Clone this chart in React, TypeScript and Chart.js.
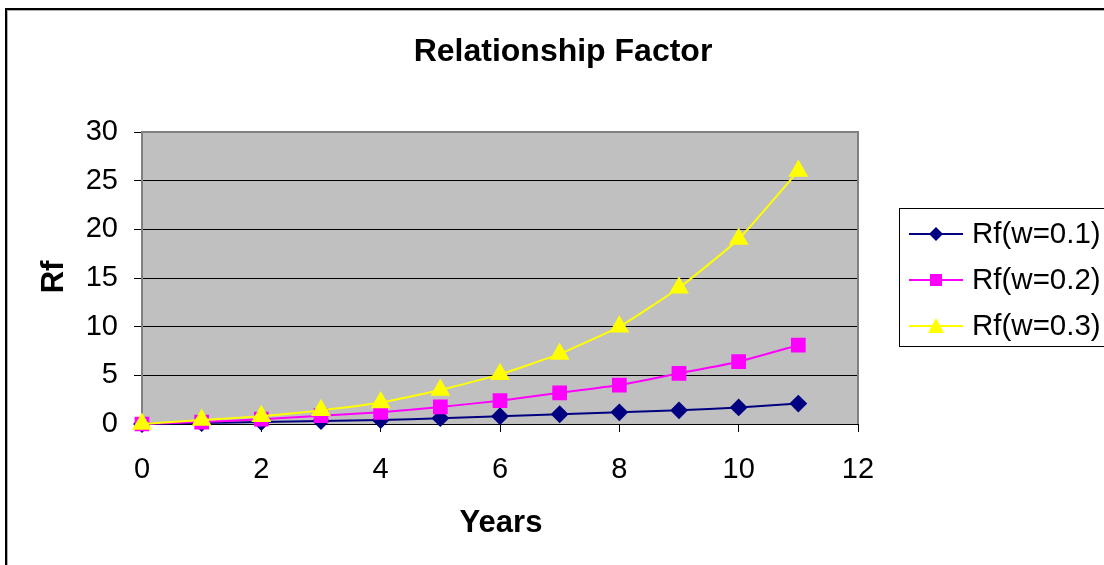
import React, { useEffect, useRef } from "react";
import { Chart, registerables } from "chart.js";

Chart.register(...registerables);

const years = [0, 1, 2, 3, 4, 5, 6, 7, 8, 9, 10, 11];
const rfW01 = [0, 0.1, 0.2, 0.3, 0.4, 0.6, 0.8, 1.0, 1.2, 1.4, 1.7, 2.1];
const rfW02 = [0, 0.2, 0.5, 0.85, 1.2, 1.75, 2.4, 3.2, 4.0, 5.2, 6.4, 8.1];
const rfW03 = [0, 0.4, 0.8, 1.4, 2.2, 3.5, 5.1, 7.2, 10.0, 14.0, 19.0, 26.0];
const seriesLabels = ["Rf(w=0.1)", "Rf(w=0.2)", "Rf(w=0.3)"];
const chartTitle = "Relationship Factor";
const xTitle = "Years";
const yTitle = "Rf";

const FONT = "'Liberation Sans', Arial, sans-serif";

const frameAndText = {
  id: "frameAndText",
  beforeDraw(chart: any) {
    const { ctx, chartArea: a, width, height } = chart;
    ctx.save();
    ctx.fillStyle = "#ffffff";
    ctx.fillRect(0, 0, width, height);
    // outer chart frame
    ctx.strokeStyle = "#000000";
    ctx.lineWidth = 2;
    ctx.strokeRect(6, 9, width + 20, height + 20);
    ctx.strokeStyle = "#b0b0b0";
    ctx.lineWidth = 1;
    ctx.strokeRect(7.5, 10.5, width + 20, height + 20);
    // plot area fill
    ctx.fillStyle = "#c0c0c0";
    ctx.fillRect(a.left, a.top, a.right - a.left, a.bottom - a.top);
    ctx.restore();
  },
  beforeDatasetsDraw(chart: any) {
    const { ctx, chartArea: a } = chart;
    ctx.save();
    ctx.strokeStyle = "#808080";
    ctx.lineWidth = 2;
    ctx.beginPath();
    ctx.moveTo(a.left, a.bottom);
    ctx.lineTo(a.left, a.top);
    ctx.lineTo(a.right, a.top);
    ctx.lineTo(a.right, a.bottom);
    ctx.stroke();
    ctx.restore();
  },
  afterDraw(chart: any) {
    const { ctx } = chart;
    ctx.save();
    ctx.fillStyle = "#000000";
    ctx.textAlign = "center";
    ctx.textBaseline = "alphabetic";
    ctx.font = `bold 32px ${FONT}`;
    ctx.fillText(chartTitle, 563, 61);
    ctx.font = `bold 31px ${FONT}`;
    ctx.fillText(xTitle, 501, 532);
    ctx.translate(63, 277);
    ctx.rotate(-Math.PI / 2);
    ctx.fillText(yTitle, 0, 0);
    ctx.restore();

    // legend
    ctx.save();
    ctx.fillStyle = "#ffffff";
    ctx.fillRect(899.5, 208.5, 230, 138);
    ctx.strokeStyle = "#000000";
    ctx.lineWidth = 1;
    ctx.strokeRect(899.5, 208.5, 230, 138);
    const rows = [234, 280, 326];
    chart.data.datasets.forEach((ds: any, i: number) => {
      const y = rows[i];
      ctx.strokeStyle = ds.borderColor;
      ctx.lineWidth = 2;
      ctx.beginPath();
      ctx.moveTo(909, y);
      ctx.lineTo(963, y);
      ctx.stroke();
      ctx.fillStyle = ds.pointBackgroundColor;
      ctx.beginPath();
      if (ds.pointStyle === "rectRot") {
        ctx.moveTo(936, y - 7);
        ctx.lineTo(943, y);
        ctx.lineTo(936, y + 7);
        ctx.lineTo(929, y);
      } else if (ds.pointStyle === "rect") {
        ctx.rect(930, y - 6, 12, 12);
      } else {
        ctx.moveTo(936, y - 8);
        ctx.lineTo(944, y + 7);
        ctx.lineTo(928, y + 7);
      }
      ctx.closePath();
      ctx.fill();
      ctx.fillStyle = "#000000";
      ctx.font = `29.5px ${FONT}`;
      ctx.textAlign = "left";
      ctx.textBaseline = "middle";
      ctx.fillText(ds.label, 972, y + 1);
    });
    ctx.restore();
  },
};

export default function App() {
  const canvasRef = useRef<HTMLCanvasElement | null>(null);

  useEffect(() => {
    const canvas = canvasRef.current;
    if (!canvas) return;
    const toPoints = (vals: number[]) => vals.map((v, i) => ({ x: years[i], y: v }));
    const chart = new Chart(canvas, {
      type: "line",
      data: {
        datasets: [
          {
            label: seriesLabels[0],
            data: toPoints(rfW01),
            borderColor: "#000080",
            backgroundColor: "#000080",
            pointBackgroundColor: "#000080",
            pointBorderColor: "#000080",
            pointStyle: "rectRot",
            pointRadius: 7.5,
            borderWidth: 2,
            tension: 0.15,
            clip: false,
            order: 2,
          },
          {
            label: seriesLabels[1],
            data: toPoints(rfW02),
            borderColor: "#ff00ff",
            backgroundColor: "#ff00ff",
            pointBackgroundColor: "#ff00ff",
            pointBorderColor: "#ff00ff",
            pointStyle: "rect",
            pointRadius: 9,
            borderWidth: 2,
            tension: 0.15,
            clip: false,
            order: 1,
          },
          {
            label: seriesLabels[2],
            data: toPoints(rfW03),
            borderColor: "#ffff00",
            backgroundColor: "#ffff00",
            pointBackgroundColor: "#ffff00",
            pointBorderColor: "#ffff00",
            pointStyle: "triangle",
            pointRadius: 9.5,
            borderWidth: 2,
            tension: 0.15,
            clip: false,
            order: 0,
          },
        ],
      },
      options: {
        responsive: false,
        animation: false,
        layout: { padding: { left: 0, top: 132, right: 246, bottom: 0 } },
        plugins: {
          legend: { display: false },
          title: { display: false },
          tooltip: { enabled: false },
        },
        scales: {
          x: {
            type: "linear",
            min: 0,
            max: 12,
            ticks: {
              stepSize: 2,
              color: "#000000",
              font: { family: FONT, size: 29 },
              padding: 21,
              maxRotation: 0,
            },
            grid: {
              drawOnChartArea: false,
              drawTicks: true,
              tickLength: 8,
              tickColor: "#000000",
            },
            border: { display: true, color: "#000000", width: 1 },
            afterFit: (s: any) => {
              s.height = 565 - 424;
            },
          },
          y: {
            min: 0,
            max: 30,
            ticks: {
              stepSize: 5,
              color: "#000000",
              font: { family: FONT, size: 29 },
              padding: 16,
            },
            grid: {
              color: "#000000",
              lineWidth: 1,
              drawTicks: true,
              tickLength: 8,
              tickColor: "#000000",
            },
            border: { display: false },
            afterFit: (s: any) => {
              s.width = 142;
            },
          },
        },
      },
      plugins: [frameAndText],
    });
    return () => chart.destroy();
  }, []);

  return (
    <div style={{ position: "fixed", left: 0, top: 0, width: 1104, height: 565, background: "#fff" }}>
      <canvas ref={canvasRef} width={1104} height={565} style={{ display: "block" }} />
    </div>
  );
}
